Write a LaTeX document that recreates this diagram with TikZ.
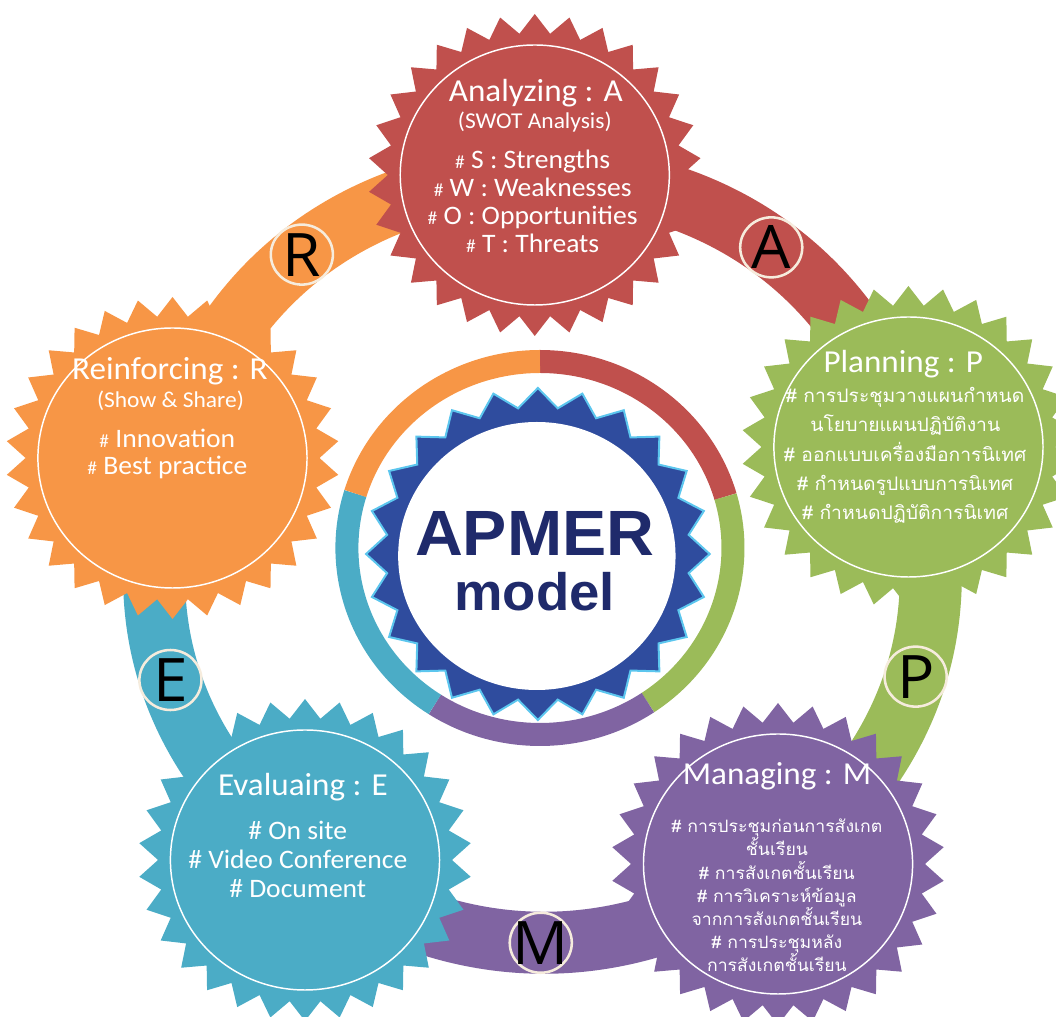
\documentclass[tikz,border=0pt]{standalone}
\usepackage{fontspec}
\setmainfont{Carlito}
\newfontfamily\thaifont[Script=Thai]{Loma}
\newfontfamily\badgefont{Open Sans}
\newfontfamily\titlefont{Liberation Sans}
\usetikzlibrary{shapes.geometric,backgrounds}
\definecolor{cRed}{HTML}{C0504D}
\definecolor{cGreen}{HTML}{9BBB59}
\definecolor{cPurple}{HTML}{8064A2}
\definecolor{cCyan}{HTML}{4BACC6}
\definecolor{cOrange}{HTML}{F79646}
\definecolor{cBlue}{HTML}{2F4C9E}
\definecolor{cSky}{HTML}{5CC6EE}
\definecolor{cNavy}{HTML}{1F2A6B}
\definecolor{cCream}{HTML}{F6ECDD}
\newcommand{\smallhash}{{\fontsize{14}{14}\selectfont\#}}
\tikzset{burst/.style = {star, star points=30, star point ratio=1.134, minimum size=241.5pt, inner sep=0pt},
         rim/.style = {circle, draw=white, line width=1.1pt, minimum size=195pt, inner sep=0pt},
         band/.style = {line width=46.5pt},
         badge/.style = {circle, draw=cCream, line width=1.9pt, minimum size=45pt, inner sep=0pt},
         lettertext/.style = {font=\badgefont\fontsize{45}{45}\selectfont, text=black, inner sep=0pt},
         headtext/.style = {anchor=base, text=white, inner sep=0pt, font=\fontsize{24}{24}\selectfont},
         subtext/.style = {anchor=base, text=white, inner sep=0pt, font=\fontsize{17}{17}\selectfont},
         itemtext/.style = {anchor=base, text=white, inner sep=0pt, align=center},
         ring/.style = {line width=17.25pt}}

\begin{document}
\begin{tikzpicture}[x=0.75pt, y=0.75pt, xscale=1.035, transform shape]
    \useasboundingbox (-521.7,-459) rectangle (498.6,558);

    % five stages
    \node[burst, fill=cRed](anz)at(-5,383){};
    \node[burst, fill=cGreen](pln)at(356,111){};
    \node[burst, fill=cPurple](mng)at(230,-306){};
    \node[burst, fill=cCyan](evl)at(-227,-302){};
    \node[burst, fill=cOrange](rnf)at(-355,100){};
    \node[rim](anz-c)at(anz){};
    \node[rim](pln-c)at(pln){};
    \node[rim](mng-c)at(mng){};
    \node[rim](evl-c)at(evl){};
    \node[rim](rnf-c)at(rnf){};

    % band between the stages
    \begin{scope}[on background layer]
    \draw[band, cOrange](rnf.center) to[bend left=37] node[badge, label={[lettertext]center:R}](bR){} (anz.center);
    \draw[band, cRed](anz.center) to[bend left=37] node[badge, label={[lettertext]center:A}](bA){} (pln.center);
    \draw[band, cGreen](pln.center) to[bend left=35] node[badge, label={[lettertext]center:P}](bP){} (mng.center);
    \draw[band, cPurple](mng.center) to[bend left=37] node[badge, label={[lettertext]center:M}](bM){} (evl.center);
    \draw[band, cCyan](evl.center) to[bend left=34] node[badge, label={[lettertext]center:E}](bE){} (rnf.center);
    \end{scope}

    % texts (multi-line nodes sit on their last baseline)
    \node[headtext](anz-h)at(-4,456){Analyzing : A};
    \node[subtext](anz-s)at(-5,429){(SWOT Analysis)};
    \node[itemtext, font=\fontsize{20}{21.2}\selectfont](anz-l)at(-7,305){\smallhash\ S : Strengths\\ \smallhash\ W : Weaknesses\\ \smallhash\ O : Opportunities\\ \smallhash\ T : Threats};

    \node[headtext](pln-h)at(351,185){Planning : P};
    \node[itemtext, font=\thaifont\fontsize{14}{22}\selectfont](pln-l)at(353,38){\# การประชุมวางแผนกำหนด\\ นโยบายแผนปฏิบัติงาน\\ \# ออกแบบเครื่องมือการนิเทศ\\ \# กำหนดรูปแบบการนิเทศ\\ \# กำหนดปฏิบัติการนิเทศ};

    \node[headtext](mng-h)at(229,-227){Managing : M};
    \node[itemtext, font=\thaifont\fontsize{12.8}{17.4}\selectfont](mng-l)at(229,-414){\# การประชุมก่อนการสังเกต\\ ชั้นเรียน\\ \# การสังเกตชั้นเรียน\\ \# การวิเคราะห์ข้อมูล\\ จากการสังเกตชั้นเรียน\\ \# การประชุมหลัง\\ การสังเกตชั้นเรียน};

    \node[headtext](evl-h)at(-229,-238){Evaluaing : E};
    \node[itemtext, font=\fontsize{20}{21.75}\selectfont](evl-l)at(-234,-340){\# On site\\ \# Video Conference\\ \# Document};

    \node[headtext](rnf-h)at(-357.5,178){Reinforcing : R};
    \node[subtext](rnf-s)at(-357,150){(Show \& Share)};
    \node[itemtext, font=\fontsize{20}{20.25}\selectfont](rnf-l)at(-360,83){\smallhash\ Innovation\\ \smallhash\ Best practice};

    % centre
    \draw[ring, cRed]([shift={(0,10)}]90:186.5) arc[start angle=90, end angle=16, radius=186.5];
    \draw[ring, cGreen]([shift={(0,10)}]16:186.5) arc[start angle=16, end angle=-56, radius=186.5];
    \draw[ring, cPurple]([shift={(0,10)}]-56:186.5) arc[start angle=-56, end angle=-123, radius=186.5];
    \draw[ring, cCyan]([shift={(0,10)}]-123:186.5) arc[start angle=-123, end angle=-197, radius=186.5];
    \draw[ring, cOrange]([shift={(0,10)}]163:186.5) arc[start angle=163, end angle=90, radius=186.5];
    \node[star, star points=24, star point ratio=1.13, minimum size=249pt, inner sep=0pt, fill=cBlue, draw=cSky, line width=1.5pt](gear)at(-2,4){};
    \node[circle, fill=white, minimum size=201pt, inner sep=0pt](hub)at(-3,2){};
    \node[font=\titlefont\bfseries\fontsize{48}{48}\selectfont, text=cNavy, anchor=base](apmer)at(-5,2){APMER};
    \node[font=\titlefont\bfseries\fontsize{39.5}{39.5}\selectfont, text=cNavy, anchor=base](model)at(-5,-53){model};
\end{tikzpicture}
\end{document}
